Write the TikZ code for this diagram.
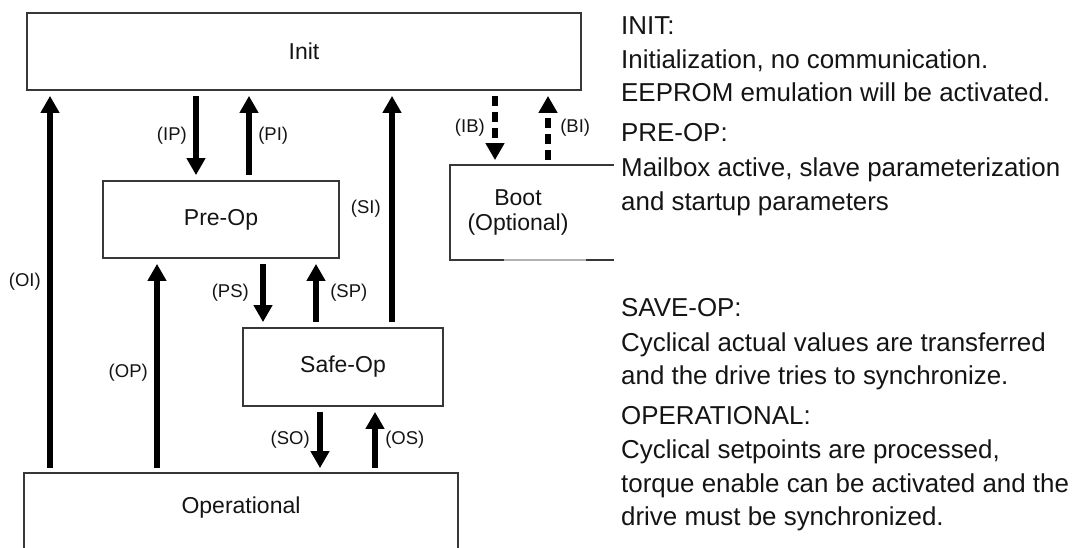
\documentclass[tikz,border=0pt]{standalone}
\usepackage{fontspec}
\setmainfont{Liberation Sans}
\usetikzlibrary{arrows.meta}
\definecolor{boxc}{RGB}{55,55,55}
\definecolor{txt}{RGB}{20,20,20}
\begin{document}
\begin{tikzpicture}[x=1pt,y=-1pt,
  box/.style={draw=boxc, line width=1.8pt, inner sep=0pt, text=txt, font=\fontsize{23}{25}\selectfont},
  boxline/.style={draw=boxc, line width=1.8pt},
  arr/.style={line width=6.5pt, draw=black, -{Triangle[width=18pt,length=17pt]}, shorten <=5pt, shorten >=5pt},
  darr/.style={arr, dash pattern=on 10pt off 6pt},
  lab/.style={inner sep=0pt, text=txt, font=\fontsize{18.5}{20}\selectfont},
  rt/.style={anchor=base west, inner sep=0pt, text=txt, font=\fontsize{25.9}{30}\selectfont}]
\useasboundingbox (0,0) rectangle (1078,548);
\clip (0,0) rectangle (1078,548);

% states
\node[box, minimum width=554pt, minimum height=77pt] (init) at (304,51.5) {Init};
\node[box, minimum width=236pt, minimum height=77pt] (preop) at (221,219.5) {Pre-Op};
\node[box, minimum width=200pt, minimum height=78pt] (safeop) at (343,367) {Safe-Op};
\node[box, draw=none, minimum width=432pt, minimum height=68pt] (op) at (241,508) {Operational};
\draw[boxline] ([yshift=-30pt]op.south west) -- (op.north west) -- (op.north east) -- ([yshift=-30pt]op.south east);
\node[box, draw=none, minimum width=134pt, minimum height=93pt, align=center,
      font=\fontsize{23}{25}\selectfont] (boot) at (518,212.5) {Boot\\(Optional)};
\draw[boxline] ([xshift=28pt]boot.north east) -- (boot.north west) -- (boot.south west) -- ([xshift=-82pt]boot.south east);
\draw[draw=gray!60, line width=1.8pt] ([xshift=-82pt]boot.south east) -- (boot.south east);
\draw[boxline] (boot.south east) -- ([xshift=28pt]boot.south east);

% x positions of the connectors
\coordinate (xOI) at (50,0);
\coordinate (xOP) at (157,0);
\coordinate (xIP) at (196,0);
\coordinate (xPI) at (249,0);
\coordinate (xPS) at (263,0);
\coordinate (xSP) at (316,0);
\coordinate (xSO) at (320,0);
\coordinate (xOS) at (375,0);
\coordinate (xSI) at (392,0);
\coordinate (xIB) at (495,0);
\coordinate (xBI) at (548,0);

% transitions
\draw[arr] (op.north -| xOI) -- (init.south -| xOI) node[lab, midway, left=6pt] {(OI)};
\draw[arr] (op.north -| xOP) -- (preop.south -| xOP) node[lab, pos=0.47, left=6pt] {(OP)};
\draw[arr] (init.south -| xIP) -- (preop.north -| xIP) node[lab, midway, left=6pt] {(IP)};
\draw[arr] (preop.north -| xPI) -- (init.south -| xPI) node[lab, midway, right=6pt] {(PI)};
\draw[arr] (preop.south -| xPS) -- (safeop.north -| xPS) node[lab, midway, left=11pt] {(PS)};
\draw[arr] (safeop.north -| xSP) -- (preop.south -| xSP) node[lab, midway, right=11pt] {(SP)};
\draw[arr] (safeop.north -| xSI) -- (init.south -| xSI) node[lab, midway, left=8pt] {(SI)};
\draw[arr] (safeop.south -| xSO) -- (op.north -| xSO) node[lab, midway, left=7pt] {(SO)};
\draw[arr] (op.north -| xOS) -- (safeop.south -| xOS) node[lab, midway, right=7pt] {(OS)};
\draw[darr] (init.south -| xIB) -- (boot.north -| xIB) node[lab, midway, left=7pt] {(IB)};
\draw[darr] (boot.north -| xBI) -- (init.south -| xBI) node[lab, midway, right=9pt] {(BI)};

% description
\node[rt] (t1) at (621,35) {INIT:};
\node[rt] (t2) at (621,69) {Initialization, no communication.};
\node[rt] (t3) at (621,102) {EEPROM emulation will be activated.};
\node[rt] (t4) at (621,142) {PRE-OP:};
\node[rt] (t5) at (621,177) {Mailbox active, slave parameterization};
\node[rt] (t6) at (621,211) {and startup parameters};
\node[rt] (t7) at (621,316) {SAVE-OP:};
\node[rt] (t8) at (621,351) {Cyclical actual values are transferred};
\node[rt] (t9) at (621,384) {and the drive tries to synchronize.};
\node[rt] (t10) at (621,424) {OPERATIONAL:};
\node[rt] (t11) at (621,458) {Cyclical setpoints are processed,};
\node[rt] (t12) at (621,492) {torque enable can be activated and the};
\node[rt] (t13) at (621,525) {drive must be synchronized.};
\end{tikzpicture}
\end{document}
